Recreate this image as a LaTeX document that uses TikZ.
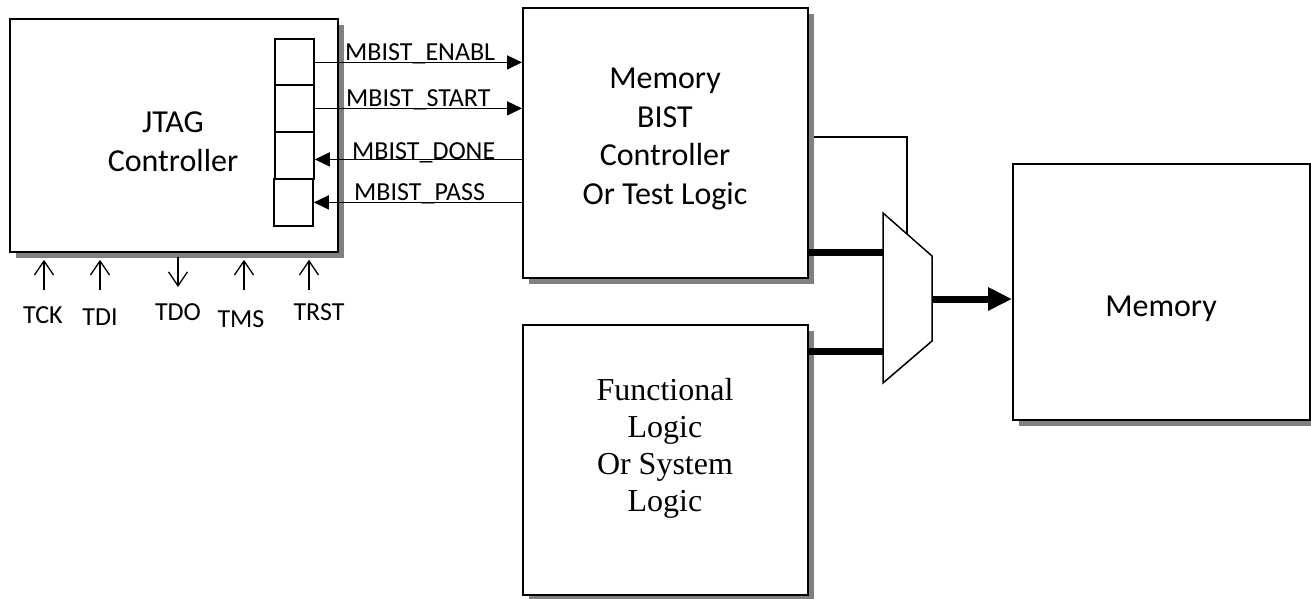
\documentclass[tikz,border=0pt]{standalone}
\usepackage{fontspec}
\setmainfont{Carlito}
\newfontfamily\serifface{Liberation Serif}
\usetikzlibrary{arrows.meta,shadows}
\definecolor{shade}{RGB}{128,128,128}

\begin{document}
\begin{tikzpicture}[x=1pt,y=-1pt,
  unit/.style={draw, line width=1.8pt, fill=white, inner sep=0pt, anchor=north west,
    drop shadow={shadow xshift=6pt, shadow yshift=-6pt, fill=shade, opacity=1}},
  cell/.style={draw, line width=1.8pt, fill=white, inner sep=0pt, anchor=north west,
    minimum width=39pt, minimum height=47pt},
  big/.style={font=\fontsize{32}{38.5}\selectfont, align=center, inner sep=0pt, anchor=north},
  small/.style={font=\fontsize{26}{30}\selectfont, inner sep=0pt},
  sig/.style={line width=1.5pt},
  fwd/.style={sig, -{Triangle[length=15pt,width=14pt]}},
  back/.style={sig, {Triangle[length=15pt,width=14pt]}-},
  bus/.style={line width=7pt},
  pinin/.style={line width=1.3pt, -{Straight Barb[length=14pt,width=19pt]}, shorten >=7pt},
  pinout/.style={line width=1.3pt, -{Straight Barb[length=14pt,width=19pt]}, shorten <=4pt},
]
\useasboundingbox (0,0) rectangle (1311,599);

% blocks
\node[unit, minimum width=328pt, minimum height=233pt] (jtag) at (9,18) {};
\node[unit, minimum width=285pt, minimum height=270pt] (bist) at (522,7) {};
\node[unit, minimum width=285pt, minimum height=270pt] (func) at (522,324) {};
\node[unit, minimum width=297pt, minimum height=256pt] (mem) at (1012,163) {};

% block texts
\node[big] (jtagtxt) at (173,112) {JTAG\\Controller};
\node[big] (bisttxt) at (665,68) {Memory\\BIST\\Controller\\Or Test Logic};
\node[big, font=\serifface\fontsize{32}{37}\selectfont] (functxt) at (665,378) {Functional\\Logic\\Or System\\Logic};
\node[big] (memtxt) at (1161,296) {Memory};

% JTAG data register cells
\node[cell] (c1) at (274,38) {};
\node[cell] (c2) at (274,84) {};
\node[cell] (c3) at (274,131) {};
\node[cell] (c4) at (273,178) {};

% MBIST handshake signals
\draw[fwd] (c1.east) -- (c1.east -| bist.west);
\draw[fwd] (c2.east) -- (c2.east -| bist.west);
\draw[back] ([yshift=-4pt]c3.east) -- ([yshift=-4pt]c3.east -| bist.west);
\draw[back] (c4.east) -- (c4.east -| bist.west);

\node[small, anchor=base west] (l1) at (345,60.5) {MBIST\_ENABL};
\node[small, anchor=base west] (l2) at (346,107) {MBIST\_START};
\node[small, anchor=base west] (l3) at (352,159.5) {MBIST\_DONE};
\node[small, anchor=base west] (l4) at (354,200) {MBIST\_PASS};

% multiplexer
\coordinate (muxin1) at (883,252);
\coordinate (muxin2) at (883,351);
\coordinate (muxout) at (932,299);
\coordinate (selturn) at (907,137);
\coordinate (muxsel) at (907,234);

\draw[sig] ([xshift=5pt]bist.east |- selturn) -- (selturn) -- (muxsel);
\draw[bus] (bist.east |- muxin1) -- (muxin1);
\draw[bus] (func.east |- muxin2) -- (muxin2);
\draw[line width=1.5pt, fill=white] (883,213) -- (932,256) -- (932,341) -- (883,383) -- cycle;
\draw[bus, -{Triangle[length=24pt,width=22pt]}] (muxout) -- (muxout -| mem.west);

% JTAG port pins
\coordinate (tck) at (44,290);
\coordinate (tdi) at (100,290);
\coordinate (tdo) at (178,287);
\coordinate (tms) at (244,290);
\coordinate (trst) at (309,290);
\draw[pinin] (tck) -- (tck |- jtag.south);
\draw[pinin] (tdi) -- (tdi |- jtag.south);
\draw[pinout] (tdo |- jtag.south) -- (tdo);
\draw[pinin] (tms) -- (tms |- jtag.south);
\draw[pinin] (trst) -- (trst |- jtag.south);

\node[small, anchor=base] (tcklbl) at (43,323) {TCK};
\node[small, anchor=base] (tdilbl) at (100,325) {TDI};
\node[small, anchor=base] (tdolbl) at (178,320) {TDO};
\node[small, anchor=base] (tmslbl) at (241,327) {TMS};
\node[small, anchor=base] (trstlbl) at (319,320) {TRST};
\end{tikzpicture}
\end{document}
